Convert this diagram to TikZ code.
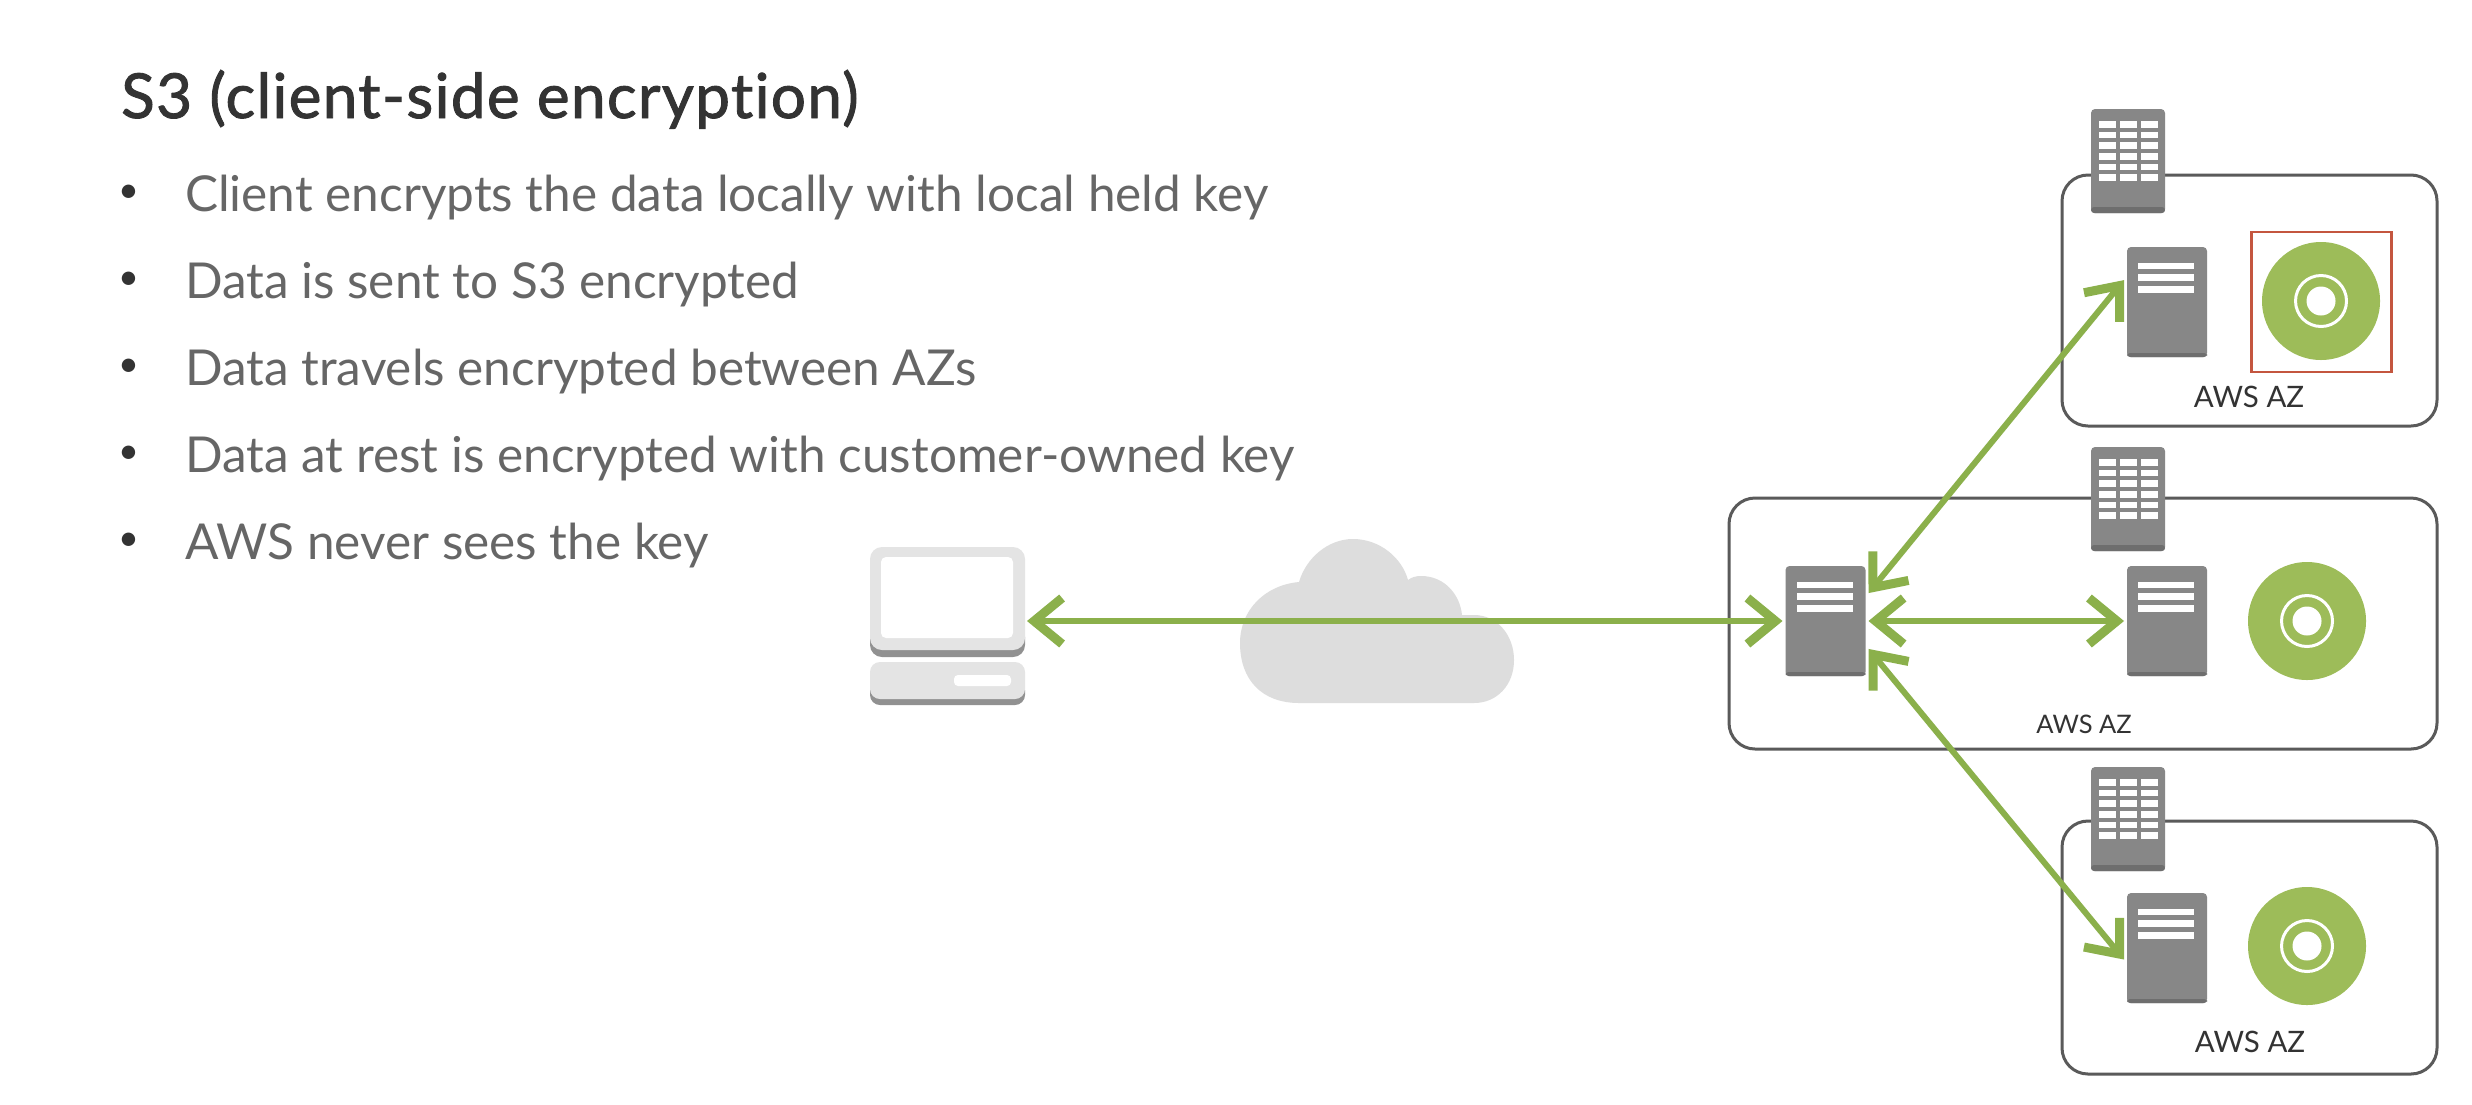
\documentclass[tikz,border=0pt]{standalone}
\usepackage{fontspec}
\setmainfont{Lato}
\newfontfamily\titlefont{Lato}[FakeBold=1.5,LetterSpace=2.2,Ligatures=NoCommon]
\usetikzlibrary{arrows.meta}
\definecolor{arrowgreen}{HTML}{8BB04B}
\definecolor{discgreen}{HTML}{9DBC59}
\definecolor{unitgray}{HTML}{878787}
\definecolor{unitdark}{HTML}{6E6E6E}
\definecolor{boxline}{HTML}{5A5A5A}
\definecolor{cloudgray}{HTML}{DDDDDD}
\definecolor{pcgray}{HTML}{E4E4E4}
\definecolor{pcdark}{HTML}{919191}
\definecolor{redline}{HTML}{C4563F}
\definecolor{titletext}{HTML}{333333}
\definecolor{bodytext}{HTML}{666666}
\tikzset{
  azbox/.style={draw=boxline,line width=3pt,rounded corners=26pt,inner sep=0pt,outer sep=0pt},
  azlabel/.style={inner sep=0pt,text=black!80,font=\fontsize{25.5}{30}\selectfont},
  azlabelbig/.style={inner sep=0pt,text=black!80,font=\fontsize{29.5}{34}\selectfont},
  unitbase/.style={fill=unitgray,rounded corners=4pt,inner sep=0pt,outer sep=3pt},
  bar/.style={fill=white},
  link/.style={draw=arrowgreen,line width=6pt,
    {Straight Barb[length=28pt,width=46pt,line width=9pt]}-{Straight Barb[length=28pt,width=46pt,line width=9pt]}},
  titlestyle/.style={anchor=base west,inner sep=0pt,text=titletext,font=\titlefont\fontsize{62}{72}\selectfont},
  bullettext/.style={anchor=base west,inner sep=0pt,text=bodytext,font=\fontsize{49.5}{58}\selectfont},
  bulletdot/.style={anchor=base west,inner sep=0pt,text=titletext,font=\fontsize{36}{44}\selectfont},
}
% building: name, centre x, centre y
\newcommand{\buildingat}[3]{%
  \node[unitbase,minimum width=74pt,minimum height=104pt] (#1) at (#2,#3) {};
  \begin{scope}[shift={(#2,#3)}]
    \fill[unitdark,rounded corners=3pt] (-37,46) rectangle (37,52);
    \foreach \cx in {-29,-8,13}{
      \foreach \cy in {-40,-29.3,-18.6,-8,2.6,13.2}{
        \fill[bar] (\cx,\cy) rectangle ++(17,6.5);
      }
    }
  \end{scope}}
% server: name, centre x, centre y
\newcommand{\serverat}[3]{%
  \node[unitbase,minimum width=80pt,minimum height=110pt] (#1) at (#2,#3) {};
  \begin{scope}[shift={(#2,#3)}]
    \fill[unitdark,rounded corners=3pt] (-40,51) rectangle (40,55);
    \fill[bar] (-29,-39) rectangle (27,-33);
    \fill[bar] (-29,-28) rectangle (27,-21);
    \fill[bar] (-29,-16) rectangle (27,-9);
  \end{scope}}
% disc: name, centre x, centre y
\newcommand{\discat}[3]{%
  \node[circle,fill=discgreen,minimum size=118pt,inner sep=0pt] (#1) at (#2,#3) {};
  \draw[white,line width=3pt] (#1.center) circle[radius=25.5pt];
  \fill[white] (#1.center) circle[radius=14.5pt];}
\begin{document}
\begin{tikzpicture}[x=1pt,y=-1pt]
\useasboundingbox (0,0) rectangle (2472,1104);
\fill[white] (0,0) rectangle (2472,1104);

% text
\node[titlestyle] (title) at (121,118) {S3 (client-side encryption)};
\foreach \nm/\yy/\tx in {a/211/Client encrypts the data locally with local held key,
                         b/298/Data is sent to S3 encrypted,
                         c/385/Data travels encrypted between AZs,
                         d/472/Data at rest is encrypted with customer-owned key,
                         e/559/AWS never sees the key}{
  \node[bulletdot] (dot\nm) at (118,\yy-9) {•};
  \node[bullettext] (line\nm) at (185,\yy) {\tx};
}

% cloud
\fill[cloudgray] (1299,703)
  .. controls (1262,703) and (1240,680) .. (1240,643)
  .. controls (1240,610) and (1265,585) .. (1299,582)
  .. controls (1306,558) and (1328,539) .. (1353,539)
  .. controls (1380,539) and (1402,558) .. (1408,580)
  .. controls (1412,577) and (1416,576) .. (1421,576)
  .. controls (1445,576) and (1460,595) .. (1462,615)
  -- (1474,615)
  .. controls (1497,615) and (1514,635) .. (1514,660)
  .. controls (1514,685) and (1497,703) .. (1474,703) -- cycle;

% computer
\node[inner sep=0pt,outer sep=2pt,minimum width=155pt,minimum height=158pt] (pc) at (947.5,626) {};
\fill[pcdark,rounded corners=12pt] (870,625) rectangle (1025,657);
\fill[pcgray,rounded corners=12pt] (870,547) rectangle (1025,650);
\fill[white,rounded corners=5pt] (881,557) rectangle (1013,638);
\fill[pcdark,rounded corners=10pt] (870,680) rectangle (1025,705);
\fill[pcgray,rounded corners=10pt] (870,662) rectangle (1025,699);
\fill[white,rounded corners=4pt] (954,675) rectangle (1011,686);

% availability zones
\node[azbox,minimum width=375pt,minimum height=251pt] (aztop) at (2249.5,300.5) {};
\node[azbox,minimum width=708pt,minimum height=251pt] (azmid) at (2083,623.5) {};
\node[azbox,minimum width=375pt,minimum height=253pt] (azbot) at (2249.5,947.5) {};
\node[azlabelbig] (labtop) at (2249,397) {AWS AZ};
\node[azlabel] (labmid) at (2084,724) {AWS AZ};
\node[azlabelbig] (labbot) at (2250,1042) {AWS AZ};

% top zone
\buildingat{btop}{2128}{161}
\serverat{stop}{2167}{302}
\discat{dtop}{2321}{301}
\node[draw=redline,line width=2.5pt,minimum width=140pt,minimum height=140pt,inner sep=0pt] (keybox) at (2321.5,302) {};

% middle zone
\buildingat{bmid}{2128}{499}
\serverat{smain}{1825.5}{621}
\serverat{smid}{2167}{621}
\discat{dmid}{2307}{621}

% bottom zone
\buildingat{bbot}{2128}{819}
\serverat{sbot}{2167}{948}
\discat{dbot}{2307}{946}

% connectors
\draw[link] (pc.east |- smain.west) -- (smain.west);
\draw[link] (smain.east) -- (smid.west);
\draw[link] (smain.33) -- (stop.153);
\draw[link] (smain.-33) -- (sbot.195);
\end{tikzpicture}
\end{document}
